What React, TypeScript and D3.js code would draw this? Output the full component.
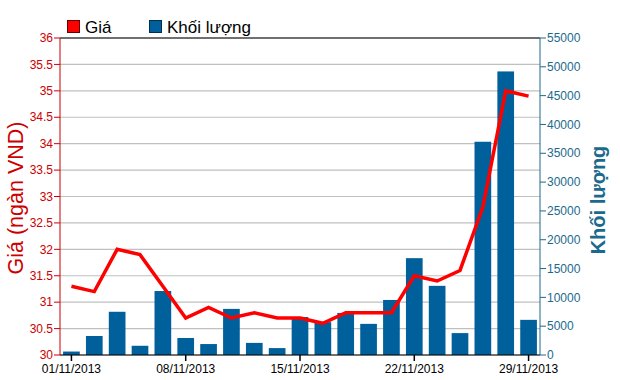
import React from "react";
import * as d3 from "d3";

const dates = ["01/11/2013","04/11/2013","05/11/2013","06/11/2013","07/11/2013","08/11/2013","11/11/2013","12/11/2013","13/11/2013","14/11/2013","15/11/2013","18/11/2013","19/11/2013","20/11/2013","21/11/2013","22/11/2013","25/11/2013","26/11/2013","27/11/2013","28/11/2013","29/11/2013"];
const prices = [31.3,31.2,32.0,31.9,31.3,30.7,30.9,30.7,30.8,30.7,30.7,30.6,30.8,30.8,30.8,31.5,31.4,31.6,32.8,35.0,34.9];
const volumes = [600,3300,7500,1600,11100,2950,1900,8000,2100,1200,6600,5700,7300,5400,9550,16800,12000,3800,37000,49200,6100];
const xTickLabels = ["01/11/2013","08/11/2013","15/11/2013","22/11/2013","29/11/2013"];
const priceTicks = [30,30.5,31,31.5,32,32.5,33,33.5,34,34.5,35,35.5,36];
const volumeTicks = [0,5000,10000,15000,20000,25000,30000,35000,40000,45000,50000,55000];

const W = 620, H = 380;
const L = 60, R = 540, T = 38, B = 355;
const RED = "#ff0000";
const AXRED = "#cc0000";
const BLUE = "#00609c";
const TEAL = "#1b6a8c";
const FONT = "'Liberation Sans', Arial, sans-serif";

export default function App() {
  const x = d3.scaleBand<string>().domain(dates).range([L, R]).paddingInner(0.27).paddingOuter(0.135);
  const yP = d3.scaleLinear().domain([30, 36]).range([B, T]);
  const yV = d3.scaleLinear().domain([0, 55000]).range([B, T]);
  const cx = (d: string) => (x(d) as number) + x.bandwidth() / 2;
  const line = d3.line<number>().x((_, i) => cx(dates[i])).y((v) => yP(v));

  return (
    <svg width={W} height={H} style={{ position: "absolute", left: 0, top: 0, background: "#fff" }} fontFamily={FONT}>
      <rect x={0} y={0} width={W} height={H} fill="#fff" />
      {priceTicks.map((t) => (
        <line key={"g" + t} x1={L} x2={R} y1={yP(t)} y2={yP(t)} stroke="#c0c0c0" strokeWidth={1.2} />
      ))}
      {volumes.map((v, i) => (
        <rect key={"b" + i} x={x(dates[i])} y={yV(v)} width={x.bandwidth()} height={B - yV(v)} fill={BLUE} />
      ))}
      <path d={line(prices) || ""} fill="none" stroke={RED} strokeWidth={3.5} strokeLinejoin="miter" />
      <line x1={L} x2={R} y1={T} y2={T} stroke="#000" strokeWidth={1} />
      <line x1={L} x2={R} y1={B} y2={B} stroke="#000" strokeWidth={1} />
      <line x1={L} x2={L} y1={T} y2={B} stroke={AXRED} strokeWidth={1} />
      {priceTicks.map((t) => (
        <g key={"lt" + t}>
          <line x1={L - 6} x2={L} y1={yP(t)} y2={yP(t)} stroke={AXRED} strokeWidth={1} />
          <text x={L - 7} y={yP(t)} dy="0.35em" textAnchor="end" fontSize={12} fill={AXRED}>{String(t)}</text>
        </g>
      ))}
      <line x1={R} x2={R} y1={T} y2={B} stroke={TEAL} strokeWidth={1} />
      {volumeTicks.map((t) => (
        <g key={"rt" + t}>
          <line x1={R} x2={R + 6} y1={yV(t)} y2={yV(t)} stroke={TEAL} strokeWidth={1} />
          <text x={R + 7} y={yV(t)} dy="0.35em" textAnchor="start" fontSize={12} fill={TEAL}>{String(t)}</text>
        </g>
      ))}
      {xTickLabels.map((d) => (
        <g key={"xt" + d}>
          <line x1={cx(d)} x2={cx(d)} y1={B} y2={B + 6} stroke="#000" strokeWidth={1.5} />
          <text x={cx(d)} y={B + 14} dy="0.35em" textAnchor="middle" fontSize={12} fill="#000">{d}</text>
        </g>
      ))}
      <text transform="translate(23,198) rotate(-90)" textAnchor="middle" fontSize={21.5} fill={AXRED}>Giá (ngàn VND)</text>
      <text transform="translate(605,200) rotate(-90)" textAnchor="middle" fontSize={20} fontWeight="bold" fill={TEAL}>Khối lượng</text>
      <rect x={67.5} y={20.5} width={12} height={12} fill={RED} stroke="#600" strokeWidth={1} />
      <text x={85} y={33} fontSize={17} fill="#000">Giá</text>
      <rect x={149.5} y={20.5} width={12} height={12} fill={BLUE} stroke="#003050" strokeWidth={1} />
      <text x={167} y={33} fontSize={17} fill="#000">Khối lượng</text>
    </svg>
  );
}
